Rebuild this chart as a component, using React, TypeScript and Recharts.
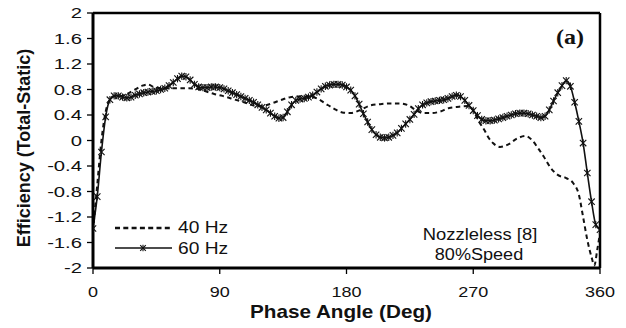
import { LineChart, Line, XAxis, YAxis, ReferenceLine, Customized } from "recharts";

const FONT = "Arial, 'Liberation Sans', sans-serif";

// 40 Hz pulsating flow
const phase40 = [
  0, 3, 6, 9, 12, 16, 20, 25, 30, 35, 39, 44, 50, 56, 62, 68, 74, 80, 86, 92, 98, 104, 110, 116, 122, 128,
  134, 140, 147, 153, 159, 165, 171, 177, 183, 190, 197, 204, 211, 218, 224, 229, 234, 240, 246, 253, 260,
  266, 270, 274, 278, 281, 284, 289, 295, 301, 307, 312, 316, 320, 325, 330, 336, 341, 345, 348, 351, 354,
  356, 358, 360,
];
const eff40 = [
  -1.42, -0.7, 0.0, 0.45, 0.64, 0.7, 0.7, 0.74, 0.8, 0.86, 0.88, 0.83, 0.82, 0.82, 0.82, 0.82, 0.81, 0.77,
  0.73, 0.7, 0.66, 0.62, 0.58, 0.54, 0.55, 0.59, 0.64, 0.68, 0.69, 0.69, 0.66, 0.58, 0.5, 0.44, 0.43, 0.48,
  0.55, 0.57, 0.58, 0.58, 0.55, 0.48, 0.43, 0.43, 0.45, 0.51, 0.53, 0.54, 0.47, 0.3, 0.16, 0.04, -0.04, -0.1,
  -0.06, 0.03, 0.07, 0.0, -0.12, -0.25, -0.43, -0.54, -0.59, -0.67, -0.85, -1.2, -1.56, -1.83, -1.96, -1.72,
  -1.45,
];

// 60 Hz pulsating flow
const phase60 = [
  0, 3, 6, 9, 12, 15, 18, 21, 24, 27, 30, 33, 36, 39, 42, 45, 48, 51, 54, 57, 60, 63, 66, 69, 72, 75, 78, 81,
  84, 87, 90, 93, 96, 99, 102, 105, 108, 111, 114, 117, 120, 123, 126, 129, 132, 135, 138, 141, 144, 147, 150,
  153, 156, 159, 162, 165, 168, 171, 174, 177, 180, 183, 186, 189, 192, 195, 198, 201, 204, 207, 210, 213, 216,
  219, 222, 225, 228, 231, 234, 237, 240, 243, 246, 249, 252, 255, 258, 261, 264, 267, 270, 273, 276, 279, 282,
  285, 288, 291, 294, 297, 300, 303, 306, 309, 312, 315, 318, 321, 324, 327, 330, 333, 336, 339, 342, 345, 348,
  351, 354, 357, 360,
];
const eff60 = [
  -1.38, -0.88, -0.18, 0.37, 0.64, 0.7, 0.7, 0.68, 0.67, 0.68, 0.71, 0.73, 0.75, 0.76, 0.77, 0.78, 0.8, 0.82,
  0.86, 0.91, 0.97, 1.01, 1.0, 0.95, 0.88, 0.84, 0.83, 0.83, 0.84, 0.84, 0.83, 0.81, 0.78, 0.75, 0.72, 0.69,
  0.66, 0.63, 0.6, 0.56, 0.52, 0.48, 0.43, 0.38, 0.35, 0.36, 0.45, 0.56, 0.63, 0.65, 0.66, 0.68, 0.71, 0.76,
  0.81, 0.85, 0.87, 0.88, 0.88, 0.87, 0.84, 0.79, 0.7, 0.57, 0.42, 0.29, 0.17, 0.09, 0.05, 0.04, 0.05, 0.08,
  0.12, 0.19, 0.26, 0.33, 0.41, 0.5, 0.56, 0.59, 0.61, 0.62, 0.63, 0.64, 0.66, 0.69, 0.71, 0.69, 0.63, 0.55,
  0.47, 0.39, 0.33, 0.31, 0.31, 0.32, 0.34, 0.36, 0.38, 0.4, 0.42, 0.43, 0.43, 0.42, 0.4, 0.38, 0.36, 0.38,
  0.48, 0.62, 0.75, 0.86, 0.94, 0.85, 0.6, 0.3, -0.04, -0.51, -0.96, -1.32, -1.4,
];

const xTicks = [0, 90, 180, 270, 360];
const yTicks = [-2, -1.6, -1.2, -0.8, -0.4, 0, 0.4, 0.8, 1.2, 1.6, 2];

const data40 = phase40.map((x, i) => ({ x, y: eff40[i] }));
const data60 = phase60.map((x, i) => ({ x, y: eff60[i] }));

// horizontal stretch about a given x
const sx = (x: number, k: number) => `translate(${x} 0) scale(${k} 1) translate(${-x} 0)`;

function Star({ cx, cy, s = 3.2 }: { cx: number; cy: number; s?: number }) {
  return (
    <g stroke="#111" strokeWidth={1.1}>
      <line x1={cx - s} y1={cy - s} x2={cx + s} y2={cy + s} />
      <line x1={cx - s} y1={cy + s} x2={cx + s} y2={cy - s} />
      <line x1={cx} y1={cy - s - 0.5} x2={cx} y2={cy + s + 0.5} />
    </g>
  );
}

function YTick({ x, y, payload }: any) {
  return (
    <text x={x} y={y} dy="0.36em" textAnchor="end" fontSize={15} fill="#111" fontFamily={FONT} transform={sx(x, 1.35)}>
      {String(payload.value)}
    </text>
  );
}

function XTick({ x, y, payload }: any) {
  return (
    <text x={x} y={y} dy="0.71em" textAnchor="middle" fontSize={15} fill="#111" fontFamily={FONT} transform={sx(x, 1.2)}>
      {String(payload.value)}
    </text>
  );
}

function Annotations() {
  return (
    <g fontFamily={FONT} fill="#111">
      <text x={570} y={44} textAnchor="middle" fontSize={20} fontWeight="bold" fontFamily="'Liberation Serif', 'Times New Roman', serif" transform={sx(570, 1.2)}>
        (a)
      </text>
      <text x={480} y={240} textAnchor="middle" fontSize={16} transform={sx(480, 1.15)}>
        Nozzleless [8]
      </text>
      <text x={479} y={260} textAnchor="middle" fontSize={16} transform={sx(479, 1.13)}>
        80%Speed
      </text>
      {/* legend */}
      <line x1={115} y1={228} x2={172} y2={228} stroke="#111" strokeWidth={2.5} strokeDasharray="5 3.3" />
      <text x={178} y={233} fontSize={16} transform={sx(178, 1.2)}>
        40 Hz
      </text>
      <line x1={115} y1={248} x2={172} y2={248} stroke="#111" strokeWidth={1.3} />
      <Star cx={143} cy={248} s={2.8} />
      <text x={178} y={254} fontSize={16} transform={sx(178, 1.2)}>
        60 Hz
      </text>
      {/* axis titles */}
      <text x={341} y={318} textAnchor="middle" fontSize={18} fontWeight="bold" transform={sx(341, 1.15)}>
        Phase Angle (Deg)
      </text>
      <text x={30} y={148} textAnchor="middle" fontSize={18} fontWeight="bold" transform="rotate(-90 30 148)">
        Efficiency (Total-Static)
      </text>
    </g>
  );
}

export default function App() {
  return (
    <div style={{ position: "absolute", left: 0, top: 0, background: "#fff" }}>
      <LineChart width={626} height={328} margin={{ top: 13, right: 26, bottom: 0, left: 0 }}>
        <XAxis
          type="number"
          dataKey="x"
          domain={[0, 360]}
          ticks={xTicks}
          allowDataOverflow
          height={60}
          tick={<XTick />}
          tickSize={6}
          tickMargin={12}
          axisLine={{ stroke: "#000", strokeWidth: 3 }}
          tickLine={{ stroke: "#000", strokeWidth: 1.3 }}
        />
        <YAxis
          type="number"
          dataKey="y"
          domain={[-2, 2]}
          ticks={yTicks}
          allowDataOverflow
          width={93}
          tick={<YTick />}
          tickSize={6}
          tickMargin={5}
          axisLine={{ stroke: "#000", strokeWidth: 3 }}
          tickLine={{ stroke: "#000", strokeWidth: 1.3 }}
        />
        <ReferenceLine y={2} stroke="#000" strokeWidth={2.5} />
        <ReferenceLine x={360} stroke="#000" strokeWidth={2.5} />
        <Line
          data={data40}
          dataKey="y"
          type="monotone"
          stroke="#111"
          strokeWidth={2}
          strokeDasharray="4.5 3.5"
          dot={false}
          isAnimationActive={false}
        />
        <Line
          data={data60}
          dataKey="y"
          type="monotone"
          stroke="#111"
          strokeWidth={1.6}
          dot={(p: any) => <Star key={p.index} cx={p.cx} cy={p.cy} />}
          isAnimationActive={false}
        />
        <Customized component={<Annotations />} />
      </LineChart>
    </div>
  );
}
